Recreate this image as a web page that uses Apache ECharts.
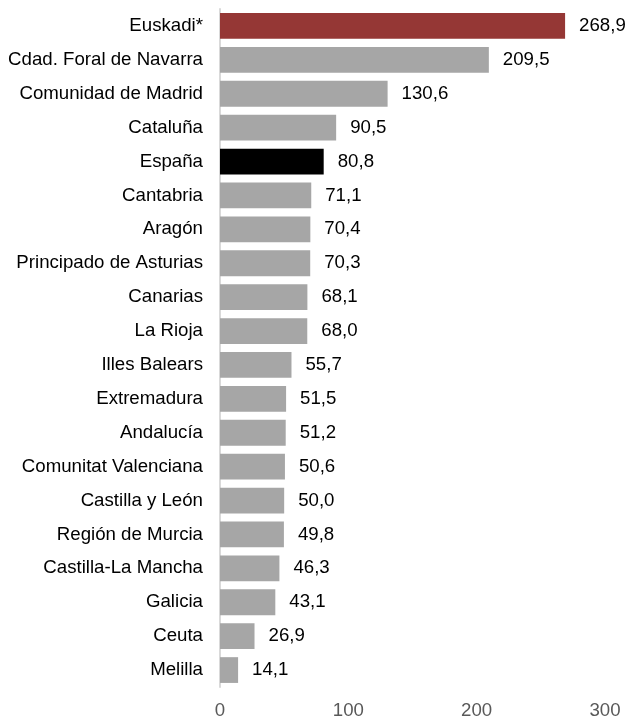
<!DOCTYPE html>
<html>
<head>
<meta charset="utf-8">
<style>
	html,body{ margin:0; padding:0; background:#fff;}
	#mainBox{ width:632px; height:718px;}
</style>
</head>
<body>
<div id="mainBox"></div>
<script src="https://cdn.jsdelivr.net/npm/echarts@6/dist/echarts.min.js"></script>
<script>
var regiones=['Euskadi*','Cdad. Foral de Navarra','Comunidad de Madrid','Cataluña','España','Cantabria','Aragón','Principado de Asturias','Canarias','La Rioja','Illes Balears','Extremadura','Andalucía','Comunitat Valenciana','Castilla y León','Región de Murcia','Castilla-La Mancha','Galicia','Ceuta','Melilla'];
var valores=[268.9,209.5,130.6,90.5,80.8,71.1,70.4,70.3,68.1,68.0,55.7,51.5,51.2,50.6,50.0,49.8,46.3,43.1,26.9,14.1];
var ejeTicks=[0,100,200,300];

var colorFun=function(name){
	if(name=='Euskadi*')return '#953735';
	if(name=='España')return '#000000';
	return '#A6A6A6';
};
var datos=[];
for(var i=0;i<regiones.length;i++){
	datos.push({value:valores[i],itemStyle:{color:colorFun(regiones[i])}});
}
var fuente='"Liberation Sans", Arial, sans-serif';
var tam=18.67;

var myChart=echarts.init(document.getElementById('mainBox'));
myChart.setOption({
	animation:false,
	grid:{left:220,right:27,top:9,bottom:31,containLabel:false,outerBoundsMode:'none'},
	xAxis:{
		type:'value',
		min:ejeTicks[0],
		max:ejeTicks[ejeTicks.length-1],
		interval:100,
		axisLine:{show:false},
		axisTick:{show:false},
		splitLine:{show:false},
		axisLabel:{color:'#595959',fontSize:tam,fontFamily:fuente,margin:14}
	},
	yAxis:{
		type:'category',
		inverse:true,
		data:regiones,
		axisLine:{show:true,lineStyle:{color:'#D9D9D9',width:2}},
		axisTick:{show:false},
		axisLabel:{color:'#000',fontSize:tam,fontFamily:fuente,margin:17}
	},
	series:[{
		type:'bar',
		data:datos,
		barCategoryGap:'24%',
		label:{
			show:true,
			position:'right',
			distance:14,
			color:'#000',
			fontSize:tam,
			fontFamily:fuente,
			formatter:function(p){return p.value.toFixed(1).replace('.',',');}
		}
	}]
});
</script>
</body>
</html>
